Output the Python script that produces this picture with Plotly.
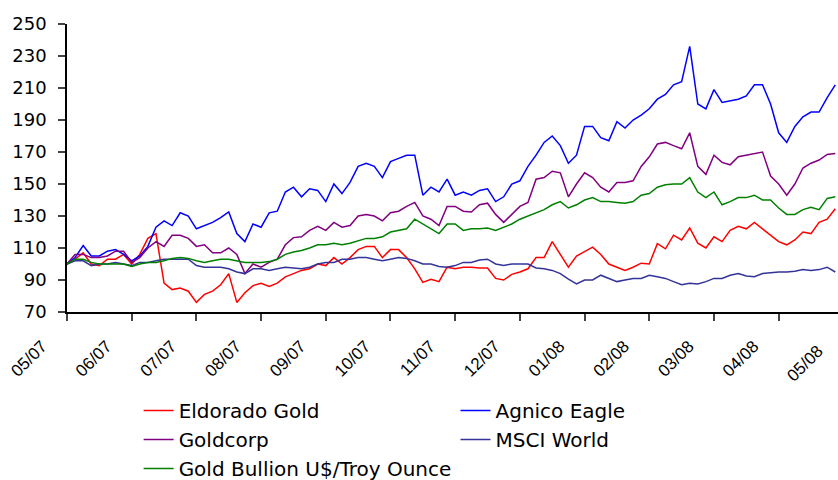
import numpy as np
import plotly.graph_objects as go

# month labels on the x axis (one tick per month, index-based spacing)
months = ["05/07", "06/07", "07/07", "08/07", "09/07", "10/07", "11/07",
          "12/07", "01/08", "02/08", "03/08", "04/08", "05/08"]

# rebased to 100, read roughly every 1/8 month
eldorado = [100, 103, 107, 100, 99, 103, 103, 106, 100, 106, 116, 119, 88, 84, 85, 83,
            76, 81, 83, 87, 94, 76, 82, 86.5, 88, 86, 88, 92, 94, 96, 97, 100,
            99, 104, 100, 104, 109, 111, 111, 104, 109, 109, 104, 97, 88.5, 90.5, 89, 98,
            97, 98, 98, 97.5, 97.5, 91, 90, 93.5, 95, 97, 104, 104, 114, 106, 98, 105,
            107.5, 110.5, 106, 100, 98, 96, 98, 100.5, 100, 112.7, 109.5, 118, 115, 122.5, 113, 110,
            117, 114, 121, 123.5, 122, 126, 122, 118, 114, 112, 115, 120, 119, 126, 128, 134.5]

agnico = [100, 104, 111.5, 105, 105, 108, 109, 106, 102, 105, 111, 123, 127, 124, 132, 130,
          122, 124, 126, 129, 132.5, 119, 114, 125, 123, 132, 133, 145, 148, 142, 147, 146,
          139, 150, 144, 151, 161, 163, 161, 154, 164, 166, 168, 168, 143, 148, 145, 153,
          143, 145, 143, 146, 147, 139, 142, 150, 152, 161, 168, 176, 180, 174, 163, 168,
          186, 186, 179, 177, 189, 185, 190, 193, 197, 203, 206, 212, 214, 236, 200, 197,
          209, 201, 202, 203, 205, 212, 212, 200, 182, 176, 186, 192, 195, 195, 204, 212]

goldcorp = [100, 106, 106, 104, 104, 105, 108, 108, 101, 104, 110, 114, 111, 118, 118, 116,
            111, 112, 107, 107, 110, 106, 94, 100, 98, 101, 103, 112, 116.5, 117, 121, 123.5,
            121, 126, 123, 124, 130, 131, 130, 127, 132, 133, 136, 138.5, 130, 128, 124, 136,
            136, 133, 132.5, 137, 138, 131, 126, 131, 136, 138.5, 153, 154, 158, 157, 142, 150,
            157, 154, 148, 145, 151, 151, 152, 161, 167, 175, 176, 174, 172, 182, 161, 156,
            168, 163.5, 162, 167, 168, 169, 170, 155, 150, 143, 150, 160, 163, 165, 168.5, 169]

msci = [100, 102, 102, 99, 100, 100, 101, 100, 99, 101, 101, 102, 103, 103, 103, 103,
        99, 98, 98, 98, 97, 95, 94, 97, 97, 96, 97, 98, 97.5, 97, 98, 100,
        101, 101, 103, 103, 104, 104, 103, 102, 103, 104, 103.5, 102, 100, 100, 98.5, 98,
        99, 101, 101, 102.5, 103, 100, 99, 100, 100, 100, 97.5, 97, 96, 94, 90.5, 87.5,
        90, 90, 93, 91, 89, 90, 91, 91, 93, 92, 91, 89, 87, 88, 87.5, 89,
        91, 91, 93, 94, 92.5, 92, 94, 94.5, 95, 95, 95.5, 96.5, 96, 96.5, 98, 95]

bullion = [100, 103, 103, 101, 100, 100, 100, 100, 98.5, 100, 101, 101, 102, 103.5, 104, 103.5,
           102, 101, 102, 103, 103, 102, 101, 101, 101, 101.5, 103, 106, 107.5, 108.5, 110, 112,
           112, 113, 112, 113, 114.5, 116, 116, 117, 120, 121, 122, 128, 125, 122, 119, 125,
           125, 121, 122, 122, 122.5, 121, 123, 125, 128, 130, 132, 134, 137, 139, 135, 137,
           140, 141.5, 139, 139, 138.5, 138, 139, 143, 144, 148, 149.5, 150, 150, 154, 145, 141.5,
           145, 137, 139, 141.5, 141.5, 143, 140, 140, 135, 131, 131, 134, 135.5, 134, 141, 142]

t = np.arange(len(agnico)) / 8.0  # position in months from 05/07

FONT = "DejaVu Sans"
XFONT = "Liberation Sans"
x_max = 11.917

fig = go.Figure()
series = [
    ("Eldorado Gold", eldorado, "#FF0000", "legend"),
    ("Agnico Eagle", agnico, "#0000FF", "legend2"),
    ("Goldcorp", goldcorp, "#800080", "legend"),
    ("MSCI World", msci, "#333399", "legend2"),
    ("Gold Bullion U$/Troy Ounce", bullion, "#008000", "legend"),
]
for name, vals, col, lg in series:
    fig.add_trace(go.Scatter(x=t, y=vals, mode="lines", name=name,
                             line=dict(color=col, width=1.5), legend=lg,
                             legendgroup=name))

fig.update_layout(
    width=838, height=480,
    margin=dict(l=67, r=0, t=24, b=168, autoexpand=False),
    plot_bgcolor="white", paper_bgcolor="white",
    font=dict(family=FONT, size=18, color="black"),
    showlegend=True,
    legend=dict(x=0.0929, y=-0.274, xanchor="left", yanchor="top",
                orientation="v", tracegroupgap=0,
                font=dict(family=FONT, size=20)),
    legend2=dict(x=0.5039, y=-0.274, xanchor="left", yanchor="top",
                 orientation="v", tracegroupgap=0,
                 font=dict(family=FONT, size=20)),
)
fig.update_xaxes(range=[0, x_max], tickvals=list(range(len(months) - 1)),
                 ticktext=months[:-1], tickangle=-45, ticks="outside", ticklen=7,
                 tickwidth=1.5, showline=True, linecolor="black", linewidth=1.5,
                 showgrid=False, zeroline=False,
                 tickfont=dict(family=XFONT, size=17),
                 ticklabelshift=-25, ticklabelstandoff=9, ticklabeloverflow="allow")
fig.update_yaxes(range=[70, 250], tick0=70, dtick=20, ticks="outside", ticklen=7,
                 tickwidth=1.5, showline=True, linecolor="black", linewidth=1.5,
                 showgrid=False, zeroline=False, tickfont=dict(size=18),
                 ticklabelstandoff=8)

# last month label sits just past the clipped right edge
fig.add_annotation(x=(830 - 67) / 771, y=-27 / 288, xref="paper", yref="paper",
                   text=months[-1], textangle=-45, showarrow=False,
                   xanchor="right", yanchor="top",
                   font=dict(family=XFONT, size=17))

# drop the default page margin so the figure sits at the window corner
fig.write_html("out.html", config={"displayModeBar": False},
               post_script="document.body.style.margin='0';"
                           "document.body.style.overflow='hidden';")
